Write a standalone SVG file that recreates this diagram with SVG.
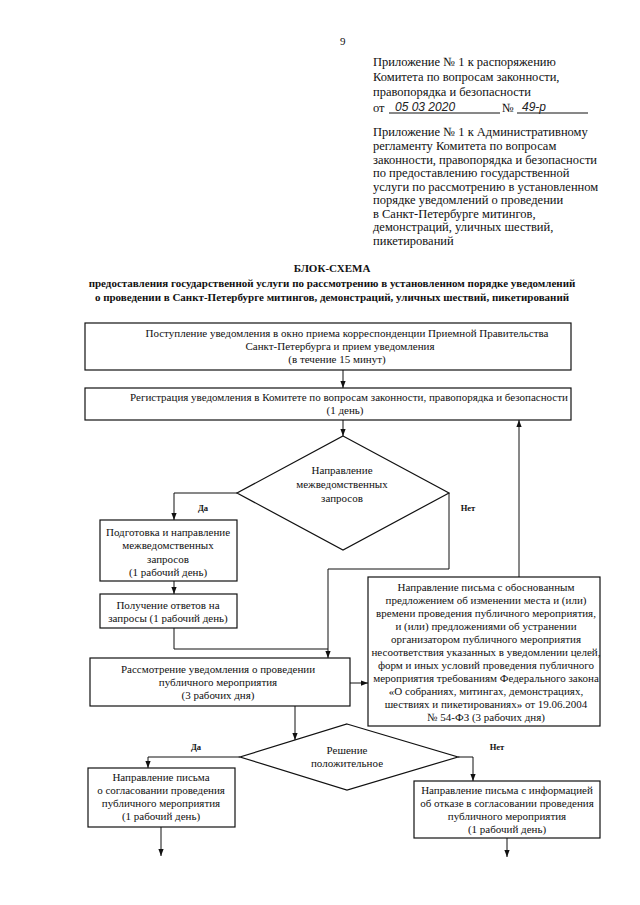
<svg xmlns="http://www.w3.org/2000/svg" width="640" height="905" viewBox="0 0 640 905">
<defs>
<style>
.t{font-family:"Liberation Serif","Times New Roman",serif;font-size:11px;fill:#111;text-anchor:middle}
.h{font-family:"Liberation Serif","Times New Roman",serif;font-size:12.5px;fill:#111}
.hw{font-family:"Liberation Sans",sans-serif;font-style:italic;font-size:12px;fill:#222}
.tb{font-family:"Liberation Serif","Times New Roman",serif;font-size:11px;font-weight:bold;fill:#111;text-anchor:middle}
.lb{font-family:"Liberation Serif","Times New Roman",serif;font-size:8.5px;font-weight:bold;fill:#111;text-anchor:middle}
.box{fill:#fff;stroke:#111;stroke-width:1.2}
.ln{fill:none;stroke:#111;stroke-width:1}
</style>
<marker id="ar" viewBox="0 0 8 8" refX="8" refY="4" markerWidth="7" markerHeight="7" markerUnits="userSpaceOnUse" orient="auto">
<path d="M0,1 L8,4 L0,7 z" fill="#111"/>
</marker>
</defs>
<rect width="640" height="905" fill="#fff"/>

<g id="header">
<text class="h" x="340" y="45" style="font-size:11px">9</text>
<text class="h" x="373" y="66">Приложение № 1 к распоряжению</text>
<text class="h" x="373" y="81">Комитета по вопросам законности,</text>
<text class="h" x="373" y="96">правопорядка и безопасности</text>
<text class="h" x="373" y="112">от</text>
<line class="ln" x1="389" y1="113" x2="500" y2="113"/>
<text class="hw" x="395" y="111">05 03 2020</text>
<text class="h" x="502" y="112">№</text>
<line class="ln" x1="517" y1="113" x2="588" y2="113"/>
<text class="hw" x="522" y="111">49-р</text>
<text class="h" x="373" y="136">Приложение № 1 к Административному</text>
<text class="h" x="373" y="150">регламенту Комитета по вопросам</text>
<text class="h" x="373" y="164">законности, правопорядка и безопасности</text>
<text class="h" x="373" y="177">по предоставлению государственной</text>
<text class="h" x="373" y="191">услуги по рассмотрению в установленном</text>
<text class="h" x="373" y="204">порядке уведомлений о проведении</text>
<text class="h" x="373" y="218">в Санкт-Петербурге митингов,</text>
<text class="h" x="373" y="231">демонстраций, уличных шествий,</text>
<text class="h" x="373" y="245">пикетирований</text>
</g>

<g id="title">
<text class="tb" x="332" y="272">БЛОК-СХЕМА</text>
<text class="tb" x="332" y="287">предоставления государственной услуги по рассмотрению в установленном порядке уведомлений</text>
<text class="tb" x="332" y="301">о проведении в Санкт-Петербурге митингов, демонстраций, уличных шествий, пикетирований</text>
</g>

<g id="connectors">
<line class="ln" x1="343" y1="370" x2="343" y2="388" marker-end="url(#ar)"/>
<line class="ln" x1="343" y1="420" x2="343" y2="436" marker-end="url(#ar)"/>
<polyline class="ln" points="237,493 174,493 174,520" marker-end="url(#ar)"/>
<line class="ln" x1="174" y1="581" x2="174" y2="594" marker-end="url(#ar)"/>
<polyline class="ln" points="174,628 174,649 328,649"/>
<polyline class="ln" points="449,493 449,569 328,569 328,658" marker-end="url(#ar)"/>
<line class="ln" x1="519" y1="577" x2="519" y2="420" marker-end="url(#ar)"/>
<line class="ln" x1="350" y1="683" x2="368" y2="683" marker-end="url(#ar)"/>
<line class="ln" x1="295" y1="706" x2="295" y2="740" marker-end="url(#ar)"/>
<polyline class="ln" points="240,757 148,757 148,768" marker-end="url(#ar)"/>
<polyline class="ln" points="458,757 473,757 473,781" marker-end="url(#ar)"/>
<line class="ln" x1="161" y1="827" x2="161" y2="856" marker-end="url(#ar)"/>
<line class="ln" x1="507" y1="838" x2="507" y2="857" marker-end="url(#ar)"/>
<text class="lb" x="203" y="511">Да</text>
<text class="lb" x="468" y="511">Нет</text>
<text class="lb" x="196" y="750">Да</text>
<text class="lb" x="497" y="750">Нет</text>
</g>

<g id="n1">
<rect class="box" x="85" y="323" width="486" height="47"/>
<text class="t" x="347" y="337">Поступление уведомления в окно приема корреспонденции Приемной Правительства</text>
<text class="t" x="340" y="350">Санкт-Петербурга и прием уведомления</text>
<text class="t" x="337" y="363">(в течение 15 минут)</text>
</g>

<g id="n2">
<rect class="box" x="85" y="388" width="486" height="32"/>
<text class="t" x="349" y="401">Регистрация уведомления в Комитете по вопросам законности, правопорядка и безопасности</text>
<text class="t" x="345" y="414">(1 день)</text>
</g>

<g id="d1">
<polygon class="box" points="343,436 449,493 343,550 237,493"/>
<text class="t" x="342" y="474">Направление</text>
<text class="t" x="342" y="488">межведомственных</text>
<text class="t" x="342" y="502">запросов</text>
</g>

<g id="n3">
<rect class="box" x="100" y="520" width="137" height="61"/>
<text class="t" x="168" y="536">Подготовка и направление</text>
<text class="t" x="168" y="549">межведомственных</text>
<text class="t" x="168" y="563">запросов</text>
<text class="t" x="168" y="576">(1 рабочий день)</text>
</g>

<g id="n4">
<rect class="box" x="100" y="594" width="137" height="34"/>
<text class="t" x="168" y="609">Получение ответов на</text>
<text class="t" x="168" y="622">запросы (1 рабочий день)</text>
</g>

<g id="n5">
<rect class="box" x="368" y="577" width="232" height="149"/>
<text class="t" x="486" y="591">Направление письма с обоснованным</text>
<text class="t" x="486" y="604">предложением об изменении места и (или)</text>
<text class="t" x="486" y="617">времени проведения публичного мероприятия,</text>
<text class="t" x="486" y="630">и (или) предложениями об устранении</text>
<text class="t" x="486" y="643">организатором публичного мероприятия</text>
<text class="t" x="486" y="656">несоответствия указанных в уведомлении целей,</text>
<text class="t" x="486" y="669">форм и иных условий проведения публичного</text>
<text class="t" x="486" y="682">мероприятия требованиям Федерального закона</text>
<text class="t" x="486" y="695">«О собраниях, митингах, демонстрациях,</text>
<text class="t" x="486" y="708">шествиях и пикетированиях» от 19.06.2004</text>
<text class="t" x="486" y="721">№ 54-ФЗ (3 рабочих дня)</text>
</g>

<g id="n6">
<rect class="box" x="90" y="658" width="260" height="48"/>
<text class="t" x="218" y="673">Рассмотрение уведомления о проведении</text>
<text class="t" x="218" y="686">публичного мероприятия</text>
<text class="t" x="218" y="699">(3 рабочих дня)</text>
</g>

<g id="d2">
<polygon class="box" points="347,724 458,757 347,790 240,757"/>
<text class="t" x="347" y="754">Решение</text>
<text class="t" x="347" y="767">положительное</text>
</g>

<g id="n7">
<rect class="box" x="88" y="768" width="147" height="59"/>
<text class="t" x="161" y="781">Направление письма</text>
<text class="t" x="161" y="794">о согласовании проведения</text>
<text class="t" x="161" y="807">публичного мероприятия</text>
<text class="t" x="161" y="820">(1 рабочий день)</text>
</g>

<g id="n8">
<rect class="box" x="414" y="781" width="186" height="57"/>
<text class="t" x="507" y="794">Направление письма с информацией</text>
<text class="t" x="507" y="807">об отказе в согласовании проведения</text>
<text class="t" x="507" y="820">публичного мероприятия</text>
<text class="t" x="507" y="833">(1 рабочий день)</text>
</g>
</svg>
